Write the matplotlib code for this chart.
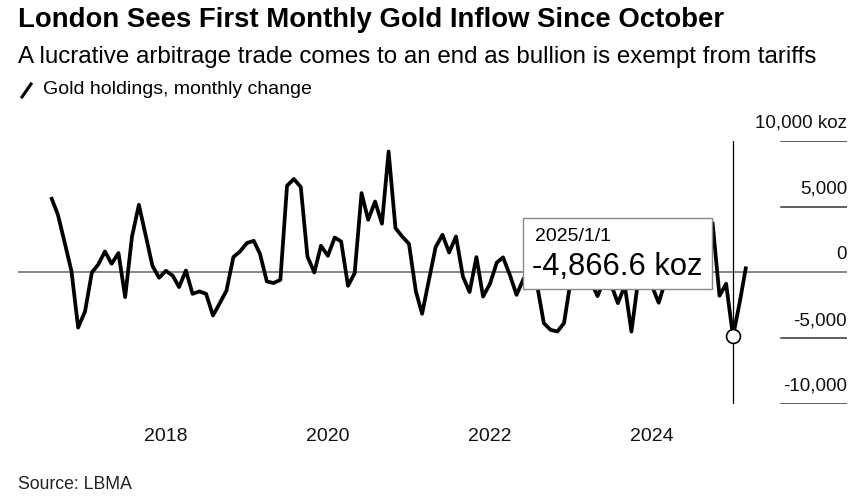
import matplotlib
matplotlib.use("Agg")
from matplotlib import pyplot as plt
import matplotlib.dates as mdates
from matplotlib.patches import Rectangle
from matplotlib.lines import Line2D
import pandas as pd

# Monthly change in London gold holdings (koz), Aug 2016 - Mar 2025
start_month = "2016-08-01"
holdings_change = [
    5740, 4390, 2300, 100, -4190, -2970, 0, 590, 1600, 660,
    1480, -1870, 2740, 5150, 2870, 510, -400, 130, -250, -1110,
    150, -1620, -1440, -1620, -3270, -2330, -1370, 1170, 1600, 2240,
    2410, 1420, -680, -800, -560, 6600, 7110, 6500, 1220, 0,
    2030, 1270, 2660, 2360, -1010, -50, 6040, 4010, 5400, 3710,
    9200, 3380, 2740, 2180, -1440, -3140, -555, 1930, 2870, 1520,
    2740, -300, -1490, 1170, -1830, -860, 760, 1150, -200, -1700,
    -500, 200, -900, -3850, -4360, -4490, -3850, -500, -1000, -200,
    -700, -1800, -500, -900, -2330, -1000, -4490, -500, 0, -1000,
    -2300, -700, 200, -300, 500, 900, -400, 800, 3760, -1770,
    -860, -4866.6, -2200, 460,
]
y_ticks = [10000, 5000, 0, -5000, -10000]
y_tick_labels = ["10,000 koz", "5,000", "0", "-5,000", "-10,000"]
x_tick_years = [2018, 2020, 2022, 2024]
hover_date = "2025-01-01"
hover_label = "2025/1/1"
hover_value = "-4,866.6 koz"

dates = pd.date_range(start_month, periods=len(holdings_change), freq="MS")

W, H = 868, 498
plt.rcParams["font.family"] = ["Liberation Sans", "DejaVu Sans"]

fig = plt.figure(figsize=(W / 100, H / 100), dpi=100)

def fx(px):
    return px / W

def fy(py):
    return 1 - py / H

# axes spans pixel x 18..847, y 141..404
ax = fig.add_axes([fx(18), fy(404), fx(847) - fx(18), fy(141) - fy(404)])

# x-limits from pixel calibration: 2025-01-01 at px 733, 81 px per year
ref = mdates.date2num(pd.Timestamp(hover_date))
days_per_px = 365.25 / 81
ax.set_xlim(ref - (733 - 18) * days_per_px, ref + (847 - 733) * days_per_px)
ax.set_ylim(-10000, 10000)

for s in ax.spines.values():
    s.set_visible(False)
ax.set_yticks([])

# gridlines: zero line across, short tick lines on the right
tick_frac = (781 - 18) / (847 - 18)
for v, lab in zip(y_ticks, y_tick_labels):
    if v == 0:
        ax.axhline(0, color="#666666", lw=1.1, zorder=1)
    else:
        ax.axhline(v, xmin=tick_frac, xmax=1, color="#333333", lw=1.1, zorder=1)
    ax.text(1.0, v + 700, lab, transform=ax.get_yaxis_transform(),
            ha="right", va="bottom", fontsize=13.6, color="#111111")

ax.plot(dates, holdings_change, color="black", lw=2.7, zorder=3,
        solid_joinstyle="round", solid_capstyle="butt")

# crosshair + marker
hd = pd.Timestamp(hover_date)
ax.axvline(hd, color="black", lw=0.9, zorder=2)
hv = holdings_change[list(dates).index(hd)]
ax.plot([hd], [hv], marker="o", ms=10, mfc="white", mec="black", mew=1.2, zorder=5)

# x ticks
ax.set_xticks([pd.Timestamp(f"{y}-01-01") for y in x_tick_years])
ax.set_xticklabels([str(y) for y in x_tick_years], fontsize=14, color="#111111")
ax.tick_params(axis="x", length=0, pad=17.5)

# tooltip box
fig.patches.append(Rectangle((fx(523), fy(289)), fx(712) - fx(523), fy(218) - fy(289),
                             transform=fig.transFigure, facecolor="white",
                             edgecolor="#888888", lw=1.0, zorder=10))
fig.text(fx(535), fy(236), hover_label, fontsize=14, va="center", ha="left", zorder=11)
fig.text(fx(532), fy(267), hover_value, fontsize=22.2, va="center", ha="left", zorder=11)

# titles
fig.text(fx(18), fy(20), "London Sees First Monthly Gold Inflow Since October",
         fontsize=19.8, fontweight="bold", va="center", ha="left")
fig.text(fx(18), fy(57), "A lucrative arbitrage trade comes to an end as bullion is exempt from tariffs",
         fontsize=17.35, va="center", ha="left")
fig.lines.append(Line2D([fx(22), fx(31)], [fy(97), fy(84)], transform=fig.transFigure,
                        color="black", lw=2.2))
fig.text(fx(43), fy(90), "Gold holdings, monthly change", fontsize=14, va="center", ha="left")
fig.text(fx(18), fy(484), "Source: LBMA", fontsize=12.7, va="center", ha="left", color="#222222")

plt.savefig("out.png", dpi=100)
